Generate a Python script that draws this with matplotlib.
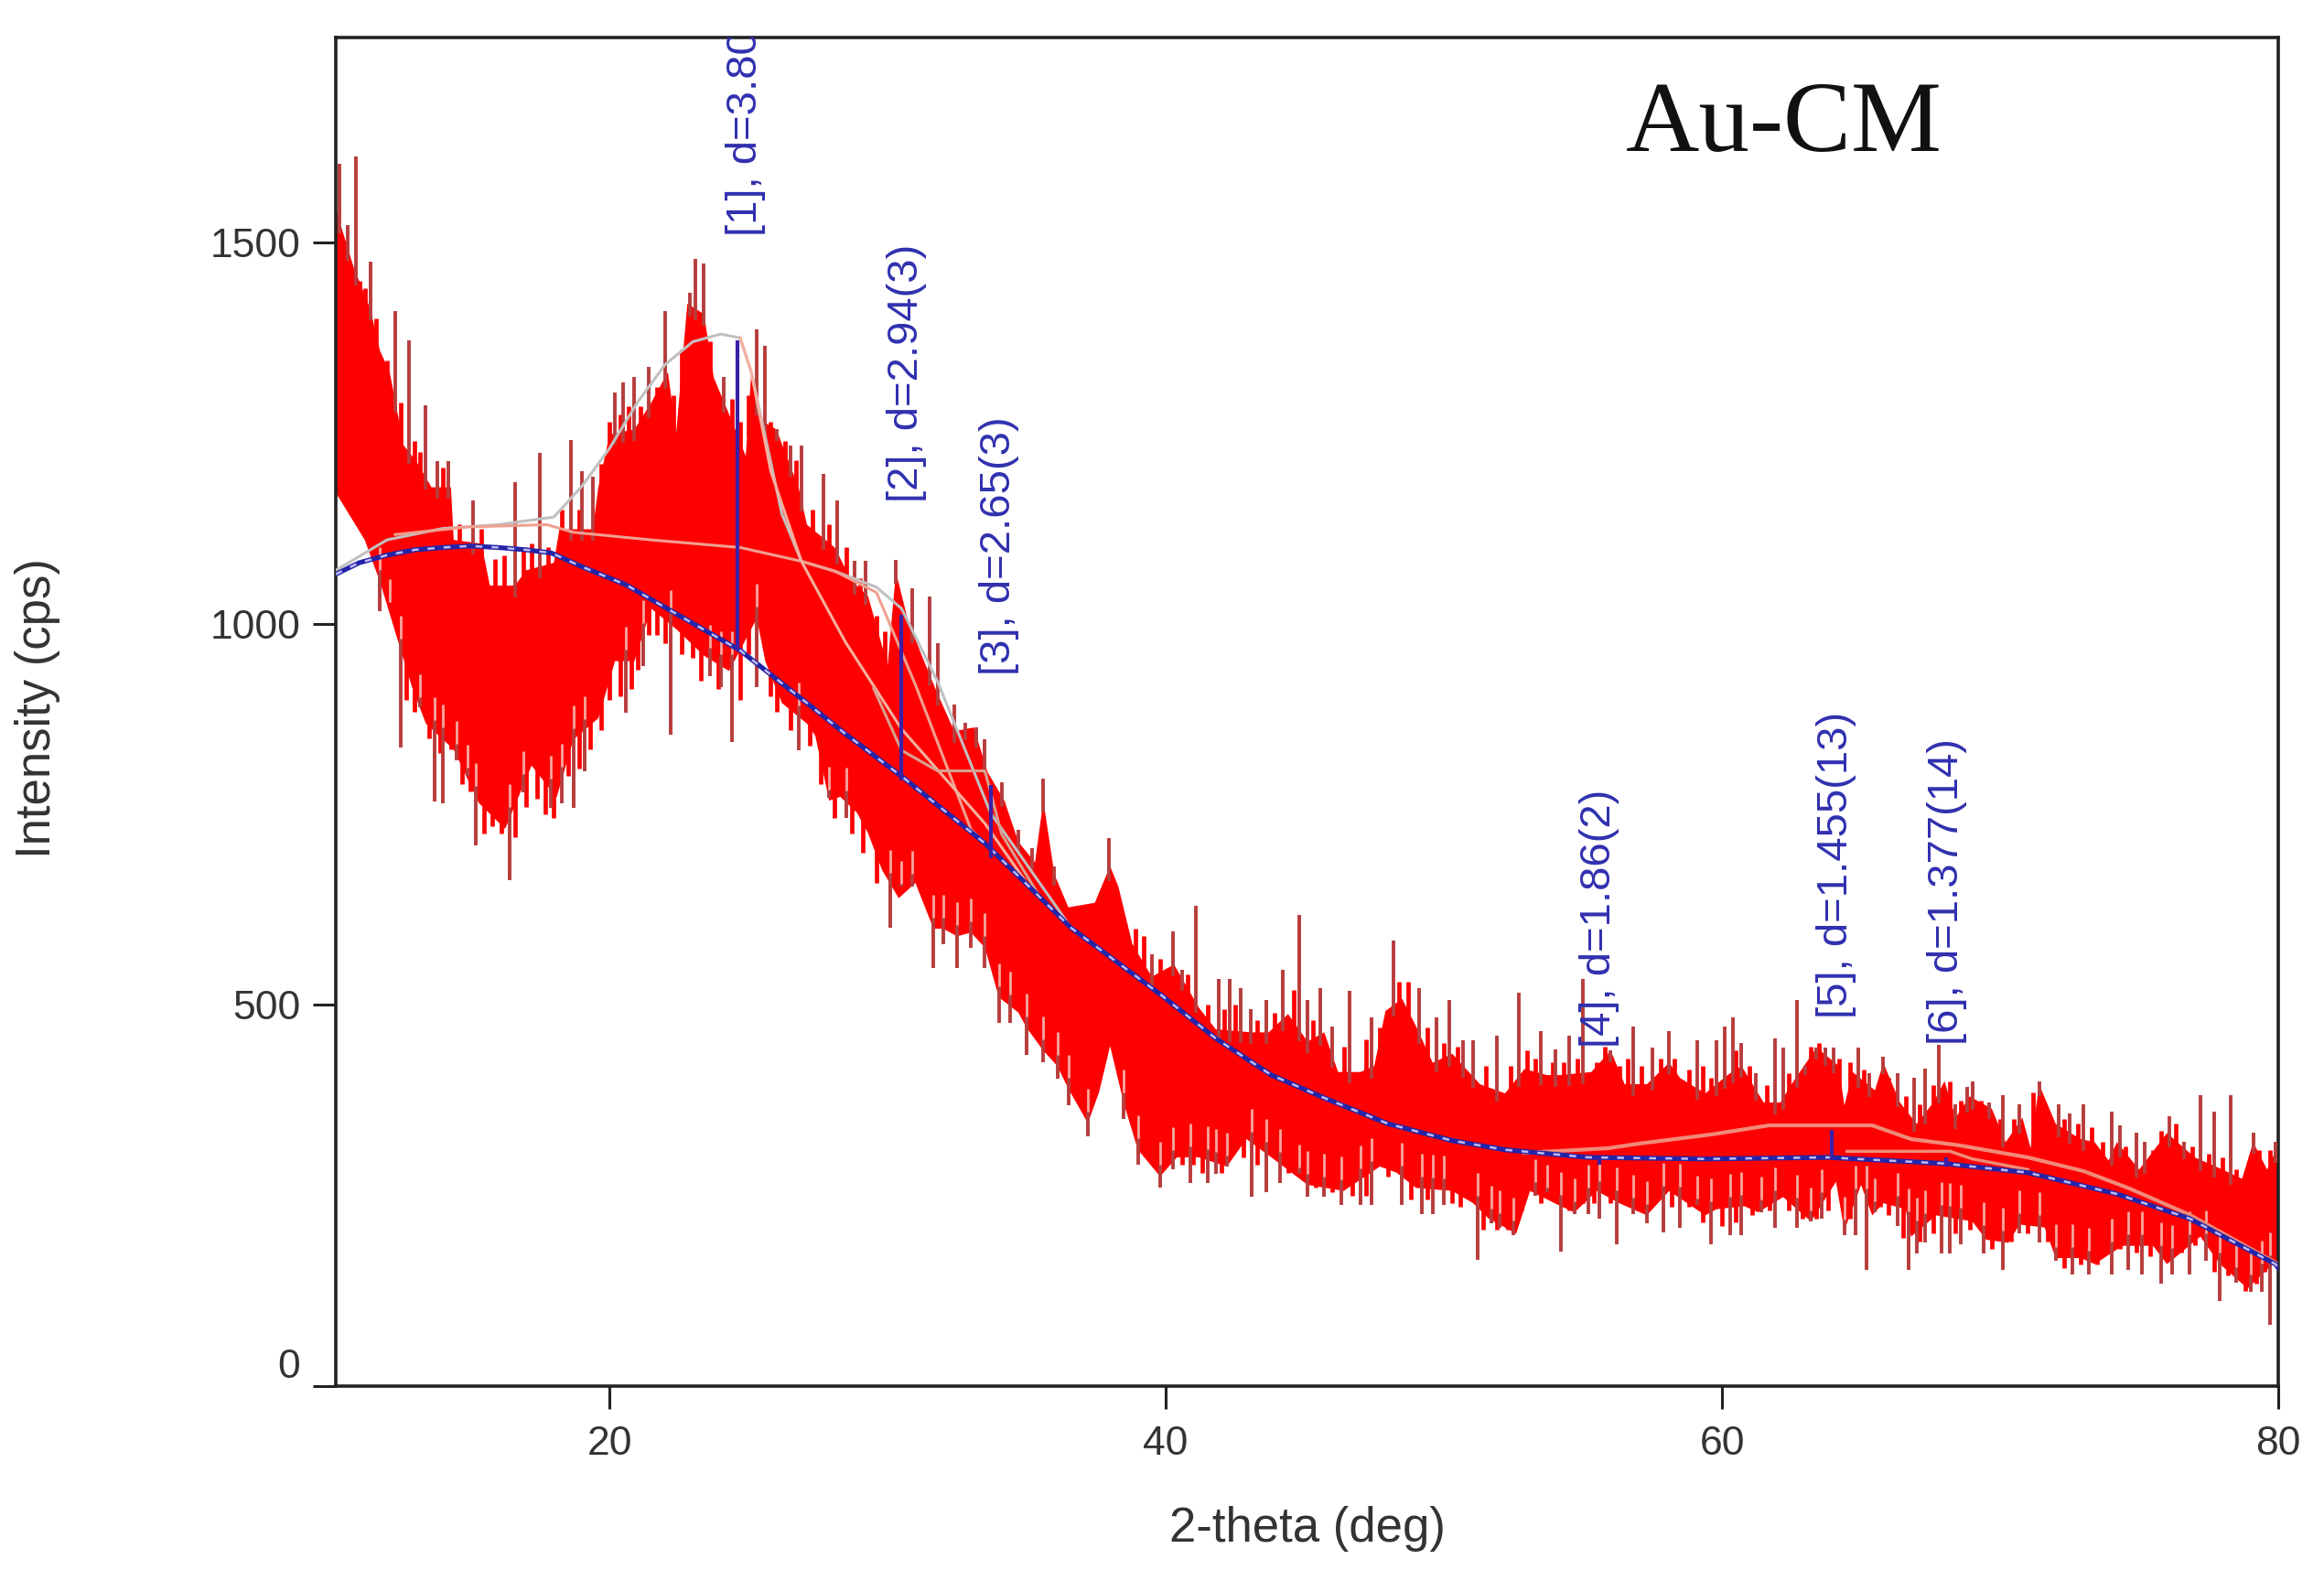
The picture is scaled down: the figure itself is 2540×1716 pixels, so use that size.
"""
XRD pattern of the Au-CM sample: noisy intensity band, background and fitted peaks.
"""

import numpy as np
import matplotlib
matplotlib.use("Agg")
import matplotlib.pyplot as plt

# top edge of the solid noise band
top_x = [
    10.16, 10.8, 11.4, 11.75, 12.1, 12.6, 13.06, 13.6, 14.3, 14.4, 15.4, 15.7, 16.6, 17, 18, 18.2, 19.4, 19.6,
    20, 20.9, 21.5, 22.1, 22.4, 22.8, 23.4, 23.75, 24.3, 24.9, 25.1, 25.4, 26, 26.8, 27.1, 28.1, 28.7, 29.3,
    30, 30.3, 30.7, 31.2, 31.75, 32.4, 33.1, 33.6, 34.2, 34.7, 35.3, 35.6, 36, 36.5, 37.45, 38, 38.3, 38.8, 39.5,
    40.3, 41.2, 41.8, 43.1, 43.7, 44.4, 45.1, 45.7, 46.2, 47, 47.5, 47.9, 48.5, 49, 49.6, 50.3, 51.3, 52.2,
    52.9, 53.7, 54.2, 55.3, 56, 56.5, 57.3, 58.1, 58.5, 59.4, 60.2, 60.7, 61.5, 62.1, 62.5, 63.4, 64.2, 64.4,
    64.7, 65.5, 65.8, 66.4, 67, 67.6, 68, 68.4, 68.9, 69.7, 70.2, 70.8, 71.1, 71.4, 72, 72.9, 73.4, 73.9, 74.2,
    75, 76, 77, 78, 78.7, 79.1, 79.6, 80,
]
top_y = [
    1544, 1468, 1413, 1358, 1330, 1234, 1213, 1179, 1179, 1110, 1105, 1050, 1050, 1070, 1080, 1124, 1124, 1179,
    1248, 1255, 1290, 1330, 1250, 1420, 1406, 1323, 1275, 1220, 1330, 1268, 1255, 1179, 1130, 1100, 1057, 1036,
    945, 1068, 1009, 961, 912, 859, 864, 805, 768, 714, 687, 768, 671, 628, 634, 682, 655, 580, 537,
    553, 496, 468, 464, 464, 488, 452, 464, 412, 412, 420, 492, 508, 472, 424, 436, 396, 384,
    416, 408, 408, 412, 440, 396, 396, 424, 404, 384, 408, 420, 372, 372, 396, 444, 420, 368,
    412, 388, 424, 372, 344, 372, 400, 352, 380, 364, 320, 352, 312, 396, 344, 324, 320, 296, 320,
    284, 332, 300, 284, 272, 320, 284, 316,
]

# bottom edge of the solid noise band
bottom_x = [
    10.16, 11.2, 11.75, 12.9, 13.4, 14.4, 15.3, 16.25, 17.2, 18.1, 18.7, 19.6, 20.2, 20.9, 21.5, 22.4, 23.4, 24.3,
    25.3, 25.6, 26.2, 27.1, 27.4, 27.9, 28.3, 28.9, 29.3, 29.8, 30.4, 31, 31.65, 32, 32.5, 33, 33.5, 34, 34.7,
    35, 35.6, 36.1, 36.5, 37.2, 37.6, 38, 38.5, 39, 39.8, 40.4, 41.2, 42.2, 42.9, 43.8, 45.1, 46.4, 47.7, 48.3,
    49, 50.3, 51.05, 51.6, 52.6, 53.1, 54.2, 54.7, 55.5, 56.3, 57.3, 58.1, 59.4, 59.8, 60.8, 61.3, 62.2, 63.2,
    64.1, 64.4, 65, 65.4, 65.8, 66.6, 66.8, 67.7, 69, 69.5, 70.3, 70.7, 71.6, 72, 72.9, 73.4, 74.4, 75.5, 76,
    77.2, 77.9, 78.9, 79.8, 80,
]
bottom_y = [
    1172, 1110, 1055, 917, 869, 835, 765, 731, 814, 772, 848, 876, 951, 951, 1020, 993, 958, 938,
    1007, 951, 896, 869, 853, 768, 773, 752, 725, 677, 640, 660, 600, 600, 590, 595, 575, 510, 490,
    470, 440, 420, 390, 345, 385, 446, 370, 310, 275, 300, 300, 288, 324, 300, 264, 256, 288, 280,
    260, 256, 240, 220, 200, 256, 236, 228, 256, 240, 224, 256, 224, 232, 236, 228, 248, 216,
    268, 204, 264, 224, 240, 232, 196, 224, 216, 192, 188, 212, 208, 168, 168, 160, 184, 184, 160,
    196, 160, 128, 160, 160,
]

# single channels that stick out of the band
spike_up_x = [
    10.3, 10.6, 10.9, 11.4, 12.3, 12.8, 13.4, 13.8, 14.2, 15.1, 16.6, 17.5, 18.6, 19.0, 19.4,
    20.2, 20.5, 20.9, 21.4, 22.0, 22.9, 23.1, 23.4, 24.1, 25.3, 25.6, 26.0, 26.5, 26.9, 27.7,
    28.2, 28.8, 29.2, 30.3, 30.9, 31.5, 31.8, 32.4, 32.8, 33.2, 33.5, 34.1, 34.7, 35.2, 35.6,
    36.0, 37.95, 39.5,
    40.26, 40.6, 41.07, 41.9, 42.3, 42.7, 43.06, 43.6, 44.2, 44.8, 45.1, 45.55, 46.0, 46.6, 47.4,
    48.2, 49.1, 49.75, 50.2, 50.7, 51.05, 51.9, 52.7, 53.5, 54.0, 54.5, 55.0, 56.0, 56.8, 57.5,
    58.1, 59.1, 59.8, 60.1, 60.4, 60.7, 61.2, 61.9, 62.2, 62.7, 63.0, 63.4, 63.7, 64.0, 64.9,
    65.3, 65.8, 66.3, 66.9, 67.3, 67.8, 68.4, 68.8, 69.0, 69.6, 70.1, 70.7, 71.4, 72.1, 72.5,
    73.0, 74.0, 74.3, 74.9, 75.2, 76.1, 76.6, 77.2, 77.7, 78.3, 79.1, 79.9,
]
spike_up_y = [
    1603, 1523, 1613, 1475, 1410, 1372, 1286, 1213, 1213, 1162, 1186, 1224, 1241, 1200, 1193,
    1303, 1317, 1324, 1337, 1410, 1434, 1479, 1472, 1324, 1386, 1365, 1255, 1234, 1234, 1196,
    1162, 1082, 1082, 1084, 1046, 1036, 974, 894, 870, 864, 848, 792, 730, 706, 797,
    682, 719, 567,
    596, 546, 630, 534, 534, 522, 494, 506, 546, 618, 506, 522, 472, 518, 484,
    584, 522, 484, 506, 454, 454, 460, 516, 466, 442, 460, 534, 440, 472, 444,
    466, 454, 454, 472, 484, 450, 410, 456, 444, 506, 420, 444, 444, 444, 444,
    410, 432, 410, 404, 416, 448, 370, 392, 400, 372, 382, 370, 400, 370, 358,
    370, 360, 342, 332, 320, 354, 320, 382, 360, 382, 332, 320,
]
spike_down_x = [
    11.75, 12.1, 12.5, 13.2, 13.7, 14.0, 14.5, 14.9, 15.2, 16.4, 16.9, 17.9, 18.3, 18.7, 19.1,
    20.6, 21.2, 22.2, 23.6, 24.0, 24.4, 25.3, 26.8, 27.9, 28.5, 30.1, 30.5, 30.9, 31.65, 32.0,
    32.5, 33.0, 33.5, 34.0, 34.4, 35.0, 35.6, 36.1, 36.5, 37.2, 38.5, 39.0, 39.8,
    40.26, 40.9, 41.5, 41.8, 42.2, 43.1, 43.6, 44.1, 44.8, 45.1, 45.7, 46.3, 47.0, 47.4, 48.5,
    49.2, 49.6, 50.0, 51.2, 51.7, 52.0, 52.5, 53.3, 53.7, 54.2, 54.7, 55.2, 55.6, 56.2, 56.8,
    57.3, 57.9, 58.5, 59.1, 59.6, 60.3, 60.7, 61.4, 61.9, 62.7, 63.2, 63.6, 64.4, 64.8, 65.2,
    65.5, 66.3, 66.7, 67.0, 67.3, 67.9, 68.2, 68.6, 69.4, 70.1, 70.7, 71.4, 72.0, 72.6, 73.2,
    74.0, 74.6, 75.1, 75.8, 76.2, 76.8, 77.4, 77.9, 78.5, 79.0, 79.4, 79.7,
]
spike_down_y = [
    1017, 1027, 838, 890, 767, 765, 821, 800, 709, 664, 779, 758, 765, 758, 807,
    883, 945, 855, 931, 917, 845, 917, 834, 772, 745, 601, 655, 655, 548, 580,
    548, 575, 548, 476, 476, 435, 425, 403, 368, 328, 350, 291, 260,
    284, 266, 266, 278, 288, 248, 254, 266, 278, 248, 248, 238, 238, 238, 238,
    226, 226, 238, 166, 214, 208, 198, 250, 254, 176, 226, 226, 220, 186, 226,
    214, 202, 208, 238, 186, 198, 198, 228, 208, 208, 216, 220, 198, 198, 152,
    228, 210, 152, 174, 188, 174, 174, 186, 174, 152, 200, 188, 164, 146, 146,
    146, 152, 146, 134, 146, 146, 164, 112, 136, 124, 124, 80,
]

# shorter teeth along both edges of the band, same red as the band
tooth_up_x = [
    11.0, 11.2, 11.6, 12.0, 12.5, 13.0, 13.2, 14.0, 14.6, 15.4, 15.9, 16.2, 16.9, 17.2, 17.8, 18.3, 18.9, 19.7,
    20.0, 20.4, 20.7, 21.1, 21.7, 22.3, 22.6, 23.6, 24.4, 24.7, 25.0, 25.8, 26.3, 26.7, 27.3, 27.9, 28.5, 29.0,
    29.6, 29.9, 38.9, 39.2, 39.8, 40.8, 41.5, 42.1, 42.5, 43.3, 43.9, 44.6, 45.3, 46.4, 47.2, 47.7, 48.4, 48.7,
    49.4, 50.0, 50.5, 51.5, 52.4, 53.0, 53.3, 53.9, 54.3, 54.8, 55.5, 55.8, 56.3, 56.6, 57.1, 57.8, 58.3, 58.8,
    59.3, 59.6, 60.5, 61.0, 61.6, 62.4, 63.2, 63.5, 64.2, 64.6, 65.1, 66.0, 66.6, 67.1, 67.6, 68.2, 68.6, 69.3,
    70.0, 70.5, 71.2, 71.7, 72.3, 72.8, 73.3, 73.7, 74.5, 75.5, 75.8, 76.3, 76.9, 77.5, 78.0, 78.5, 79.3, 79.7,
]
tooth_up_y = [
    1450, 1440, 1400, 1345, 1290, 1240, 1225, 1205, 1130, 1125, 1085, 1090, 1100, 1105, 1100, 1150, 1150, 1210,
    1265, 1275, 1285, 1285, 1310, 1300, 1360, 1370, 1295, 1265, 1300, 1265, 1240, 1215, 1150, 1130, 1100, 1060,
    1010, 990, 600, 590, 560, 540, 500, 495, 500, 480, 490, 520, 480, 445, 455, 470, 530, 530,
    470, 450, 445, 420, 420, 440, 430, 425, 425, 430, 425, 445, 420, 430, 420, 430, 430, 415,
    420, 405, 440, 420, 395, 410, 445, 450, 430, 425, 415, 405, 380, 370, 395, 400, 375, 375,
    350, 350, 385, 360, 350, 345, 340, 320, 315, 310, 335, 345, 315, 305, 300, 285, 310, 310,
]
tooth_down_x = [
    12.7, 13.0, 13.5, 13.9, 14.3, 14.7, 15.0, 15.5, 15.8, 16.1, 16.6, 17.0, 17.4, 17.7, 18.0, 18.5, 18.9, 19.3,
    19.7, 20.0, 20.4, 20.8, 21.0, 21.4, 21.7, 22.0, 22.6, 23.0, 23.3, 23.9, 24.7, 25.0, 25.8, 26.0, 26.5, 27.2,
    27.6, 28.1, 28.7, 29.1, 29.6, 40.6, 41.0, 41.3, 42.0, 42.5, 42.8, 43.3, 44.4, 45.4, 46.0, 46.7, 47.2, 48.0,
    48.8, 49.4, 50.3, 50.6, 51.4, 51.9, 52.3, 52.8, 53.5, 54.5, 55.0, 55.4, 56.0, 56.5, 57.0, 57.6, 58.2, 58.8,
    59.3, 60.0, 60.5, 61.1, 61.7, 62.4, 62.9, 63.4, 63.8, 64.6, 65.7, 66.0, 66.5, 67.1, 67.6, 68.4, 68.9, 69.7,
    70.4, 71.0, 71.7, 72.3, 72.9, 73.5, 74.3, 74.9, 75.4, 76.0, 76.5, 77.0, 77.7, 78.2, 78.8, 79.2, 79.5,
]
tooth_down_y = [
    900, 885, 850, 830, 835, 790, 780, 725, 735, 725, 720, 760, 770, 750, 745, 800, 810, 835,
    860, 900, 905, 915, 940, 985, 985, 975, 960, 955, 925, 915, 900, 960, 905, 885, 860, 840,
    790, 745, 725, 700, 660, 290, 290, 280, 280, 310, 300, 290, 280, 260, 255, 250, 250, 275,
    245, 245, 240, 235, 205, 205, 205, 230, 240, 230, 240, 240, 240, 240, 230, 240, 235, 235,
    215, 210, 215, 225, 230, 230, 220, 220, 230, 220, 235, 225, 195, 190, 200, 200, 205, 180,
    190, 200, 190, 155, 160, 160, 180, 175, 170, 175, 175, 185, 150, 145, 125, 135, 150,
]

# fitted background
bg_x = [10.16, 11, 12, 13, 14, 15, 16, 17, 17.9, 19, 20, 20.6, 22.4, 24.7, 27.1, 28.5, 30.5, 33.5, 36.6, 39.87,
        41.8, 43.8, 45.7, 48, 50.3, 52.2, 55.2, 59.4, 63.8, 68, 71, 74.2, 76.8, 79.9, 80]
bg_y = [1065, 1080, 1090, 1097, 1100, 1102, 1100, 1097, 1093, 1075, 1060, 1051, 1013, 965, 896, 855, 800, 712, 601, 512,
        456, 408, 378, 344, 322, 310, 300, 298, 300, 292, 280, 252, 220, 160, 155]

# sum of the fit
total_x = [10.16, 12, 14, 16, 18, 19, 20, 21, 22, 23, 24, 24.7, 25.1, 26.2, 26.9, 28.1, 29.6, 30.5, 31.8, 33.7, 36.6]
total_y = [1070, 1110, 1125, 1130, 1140, 1180, 1230, 1290, 1340, 1370, 1380, 1375, 1330, 1144, 1082, 1069, 1048, 1020, 924, 752, 601]

# individual peak profiles
hump_x = [12.3, 14.9, 17.75, 18.7, 21.5, 24.7, 26.9, 28.1, 29.6, 31, 33, 36.6]
hump_y = [1117, 1127, 1130, 1120, 1110, 1100, 1082, 1069, 1041, 920, 730, 601]
peak1_x = [24.7, 25.1, 25.8, 26.9, 28.5, 30.5, 33.5, 35]
peak1_y = [1375, 1330, 1200, 1082, 975, 862, 738, 660]
peak23_x = [29.5, 30.5, 31.8, 33.5, 34.1, 35.5]
peak23_y = [915, 834, 807, 807, 724, 640]
peak5_x = [52.9, 55.9, 57, 59.6, 61.7, 65.4, 66.8, 68.5, 71, 73, 74.6, 76.8, 79.9]
peak5_y = [306, 312, 318, 330, 342, 342, 324, 316, 300, 282, 260, 225, 162]
peak6_x = [64.5, 68.2, 69, 71]
peak6_y = [308, 308, 298, 284]

# marker sticks
stick_x = [24.6, 30.5, 33.7, 55.6, 63.96, 68.06]
stick_top = [1372, 1012, 789, 300, 336, 300]
stick_bottom = [965, 795, 693, 290, 298, 288]

peak_labels = ["[1], d=3.80(3)", "[2], d=2.94(3)", "[3], d=2.65(3)",
               "[4], d=1.86(2)", "[5], d=1.455(13)", "[6], d=1.377(14)"]
label_x = [24.9, 30.7, 34.0, 55.6, 64.1, 68.1]
label_y = [1509, 1159, 932, 444, 483, 448]

x_ticks = [20, 40, 60, 80]
y_ticks = [0, 500, 1000, 1500]

BLUE = "#2424a8"
SPIKE = "#b83c3c"
plt.rcParams["font.family"] = ["Liberation Sans", "DejaVu Sans"]

fig = plt.figure(figsize=(25.4, 17.16), dpi=100)
ax = fig.add_axes([367 / 2540, 1 - 1515 / 1716, (2490 - 367) / 2540, (1515 - 41) / 1716])

# noise band, its teeth, and the channels that stick out furthest
ax.fill(top_x + bottom_x[::-1], top_y + bottom_y[::-1], color="#ff0000", linewidth=0, zorder=2)
ax.vlines(tooth_up_x, np.interp(tooth_up_x, top_x, top_y) - 30, tooth_up_y,
          color="#ff0000", linewidth=3.4, zorder=2)
ax.vlines(tooth_down_x, tooth_down_y, np.interp(tooth_down_x, bottom_x, bottom_y) + 30,
          color="#ff0000", linewidth=3.4, zorder=2)
ax.vlines(spike_up_x, np.interp(spike_up_x, top_x, top_y) - 15, spike_up_y,
          color=SPIKE, linewidth=2.8, zorder=3)
low_edge = np.interp(spike_down_x, bottom_x, bottom_y)
ax.vlines(spike_down_x, spike_down_y, low_edge + 15, color=SPIKE, linewidth=2.8, zorder=3)
ax.vlines(spike_down_x, low_edge + 15, low_edge + 45, color="#f4a8a0", linewidth=2, zorder=3)

# fit curves
ax.plot(total_x, total_y, color="#c0c0c0", linewidth=2.2, zorder=4)
ax.plot(hump_x, hump_y, color="#f0a090", linewidth=2.2, zorder=4)
ax.plot(peak1_x, peak1_y, color="#f4b0a0", linewidth=2.2, zorder=4)
ax.plot(peak23_x, peak23_y, color="#d8a090", linewidth=2.2, zorder=4)
ax.plot(peak5_x, peak5_y, color="#f08a78", linewidth=3, zorder=4)
ax.plot(peak6_x, peak6_y, color="#f08a78", linewidth=2.5, zorder=4)
ax.plot(bg_x, bg_y, color=BLUE, linewidth=3.8, zorder=5)
ax.plot(bg_x, bg_y, color="#c0b8f0", linewidth=1.8, linestyle=(0, (3, 4)), zorder=6)
ax.vlines(stick_x, stick_bottom, stick_top, color="#3a20a8", linewidth=3, zorder=6)

for text, x, y in zip(peak_labels, label_x, label_y):
    ax.text(x, y, text, rotation=90, ha="center", va="bottom", fontsize=34,
            color="#3030b0", clip_on=True, zorder=7)

ax.text(0.664, 0.90, "Au-CM", transform=ax.transAxes, family="Liberation Serif",
        fontsize=80, color="#111111", va="bottom", ha="left", zorder=7)

ax.set_xlim(10.16, 80)
ax.set_ylim(0, 1769)
ax.set_xticks(x_ticks)
ax.set_yticks(y_ticks)
ax.tick_params(axis="both", length=18, width=2.2, labelsize=32, color="#222222", labelcolor="#333333")
ax.tick_params(axis="x", pad=13)
ax.tick_params(axis="y", pad=10)
ax.get_yticklabels()[0].set_va("bottom")
for spine in ax.spines.values():
    spine.set_linewidth(2.6)
    spine.set_color("#222222")

ax.set_xlabel("2-theta (deg)", fontsize=38, color="#333333", labelpad=34)
ax.set_ylabel("Intensity (cps)", fontsize=38, color="#333333")
ax.yaxis.set_label_coords(-0.142, 0.503)

fig.savefig("out.png", dpi=100)
plt.close(fig)
